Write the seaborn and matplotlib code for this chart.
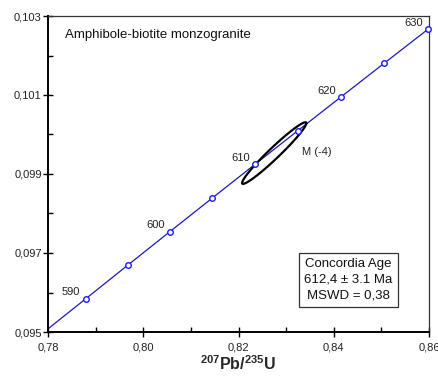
import numpy as np
import pandas as pd
import matplotlib
matplotlib.use("Agg")
import matplotlib.pyplot as plt
import seaborn as sns
from matplotlib.ticker import FixedLocator, FixedFormatter

# ---- data ----
ages = [590, 595, 600, 605, 610, 615, 620, 625, 630]
pb207_u235 = [0.78794, 0.79676, 0.80563, 0.81454, 0.82350, 0.83250, 0.84155, 0.85064, 0.85978]
pb206_u238 = [0.095843, 0.096693, 0.097544, 0.098396, 0.099248, 0.100101, 0.100954, 0.101809, 0.102664]
labelled_ages = [590, 600, 610, 620, 630]

# concordia curve, extended to plot edges
curve_x = [0.7800, 0.78794, 0.79676, 0.80563, 0.81454, 0.82350, 0.83250, 0.84155, 0.85064, 0.85978, 0.8610]
curve_y = [0.09508, 0.095843, 0.096693, 0.097544, 0.098396, 0.099248, 0.100101, 0.100954, 0.101809, 0.102664, 0.10278]

# analysis ellipse (2 sigma)
ell_x, ell_sx = 0.8275, 0.00675
ell_y, ell_sy = 0.09953, 0.00078
ell_rho = 0.97
ell_label = "M (-4)"

title = "Amphibole-biotite monzogranite"
box_text = "Concordia Age\n612,4 \u00b1 3.1 Ma\nMSWD = 0,38"

xticks = [0.78, 0.80, 0.82, 0.84, 0.86]
xtick_labels = ["0,78", "0,80", "0,82", "0,84", "0,86"]
xminor = [0.79, 0.81, 0.83, 0.85]
yticks = [0.095, 0.097, 0.099, 0.101, 0.103]
ytick_labels = ["0,095", "0,097", "0,099", "0,101", "0,103"]
yminor = [0.096, 0.098, 0.100, 0.102]

# ---- style ----
sns.set_theme(style="white")
plt.rcParams["font.family"] = ["Liberation Sans", "DejaVu Sans"]
plt.rcParams["mathtext.fontset"] = "custom"
plt.rcParams["mathtext.rm"] = "Liberation Sans"
plt.rcParams["mathtext.bf"] = "Liberation Sans:bold"

fig = plt.figure(figsize=(4.39, 3.76), dpi=100)
ax = fig.add_axes([48/439, 1-332/376, 381/439, 316/376])

line_color = "#1a1ab8"
curve_df = pd.DataFrame({"x": curve_x, "y": curve_y})
sns.lineplot(data=curve_df, x="x", y="y", sort=False, color=line_color, lw=0.9, ax=ax, zorder=2)

pts = pd.DataFrame({"x": pb207_u235, "y": pb206_u238, "age": ages})
sns.scatterplot(data=pts, x="x", y="y", marker="o", s=16, facecolor="white",
                edgecolor="#1a1aff", linewidth=1.0, ax=ax, zorder=4, clip_on=False)

for a, x, y in zip(ages, pb207_u235, pb206_u238):
    if a in labelled_ages:
        ax.annotate(str(a), (x, y), xytext=(-10.5, 4.5), textcoords="offset points",
                    ha="center", va="center", fontsize=8, color="#222222")

# ellipse from covariance
cov = np.array([[ell_sx**2, ell_rho*ell_sx*ell_sy], [ell_rho*ell_sx*ell_sy, ell_sy**2]])
L = np.linalg.cholesky(cov)
t = np.linspace(0, 2*np.pi, 200)
circ = np.vstack([np.cos(t), np.sin(t)])
e = L @ circ
ax.plot(ell_x + e[0], ell_y + e[1], color="black", lw=1.6, zorder=3)
ax.annotate(ell_label, (ell_x + ell_sx, ell_y + ell_sy*0.3), xytext=(-3, -6), textcoords="offset points",
            ha="left", va="center", fontsize=8, color="#222222")

ax.set_xlim(0.78, 0.86)
ax.set_ylim(0.095, 0.103)

ax.xaxis.set_major_locator(FixedLocator(xticks))
ax.xaxis.set_major_formatter(FixedFormatter(xtick_labels))
ax.xaxis.set_minor_locator(FixedLocator(xminor))
ax.yaxis.set_major_locator(FixedLocator(yticks))
ax.yaxis.set_major_formatter(FixedFormatter(ytick_labels))
ax.yaxis.set_minor_locator(FixedLocator(yminor))

ax.tick_params(which="major", direction="inout", length=7, width=1, color="black",
               labelsize=8, labelcolor="#222222")
ax.tick_params(axis="x", which="major", pad=4)
ax.tick_params(axis="y", which="major", pad=1)
ax.tick_params(which="minor", direction="in", length=3.5, width=1, color="black")
ax.tick_params(bottom=True, left=True, top=False, right=False, which="both")

for s in ["left", "bottom"]:
    ax.spines[s].set_color("black")
    ax.spines[s].set_linewidth(1.4)
for s in ["top", "right"]:
    ax.spines[s].set_color("#333333")
    ax.spines[s].set_linewidth(0.9)

ax.set_ylabel("")
ax.set_xlabel(r"$\mathbf{^{207}Pb/^{235}U}$", fontsize=11.5, labelpad=1.5)

ax.text(0.044, 0.939, title, transform=ax.transAxes, fontsize=9.5, ha="left", va="center", color="#111111")

ax.text(0.789, 0.165, box_text, transform=ax.transAxes, fontsize=9.5, ha="center", va="center",
        linespacing=1.45, color="#111111",
        bbox=dict(boxstyle="square,pad=0.4", facecolor="white", edgecolor="#333333", linewidth=0.9))

fig.savefig("out.png", dpi=100)
